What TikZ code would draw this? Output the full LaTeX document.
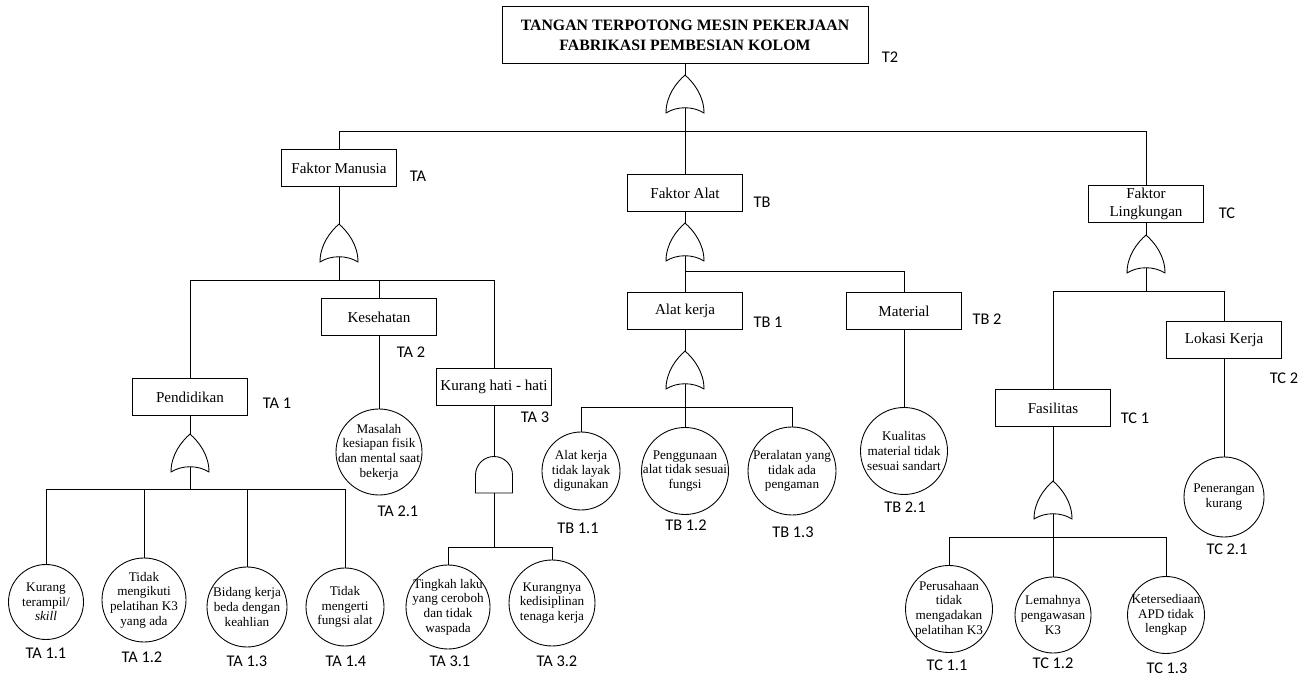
\documentclass[tikz,border=0pt]{standalone}
\usepackage{fontspec}
\setmainfont{Liberation Serif}
\newfontfamily\tagfont{Carlito}

\begin{document}
\begin{tikzpicture}
      [x=0.2mm,y=-0.2mm,line width=0.5pt,
       box/.style={draw, rectangle, minimum width=2.3cm, minimum height=0.74cm, inner sep=1pt, align=center, font=\fontsize{8.6}{10.4}\selectfont},
       ev/.style={draw, circle, inner sep=-5pt, minimum size=#1, align=center, font=\fontsize{7.5}{8.3}\selectfont},
       ev/.default=1.7cm,
       tag/.style={inner sep=0pt, font=\tagfont\fontsize{9.3}{11}\selectfont},
       orgate/.pic={
         \draw (-19,19) .. controls (-19,2) and (-9,-11) .. (0,-19) .. controls (9,-11) and (19,2) .. (19,19) .. controls (8,12) and (-8,12) .. cycle;
         \coordinate (-out) at (0,-19);
         \coordinate (-in) at (0,14);
       },
       andgate/.pic={
         \draw (-18.5,18) -- (-18.5,0) arc (180:360:18.5) -- (18.5,18) -- cycle;
         \coordinate (-out) at (0,-18.5);
         \coordinate (-in) at (0,18);
       }]
    \useasboundingbox (0,0) rectangle (1311,677);

    % top event
    \node[box, minimum width=7.32cm, minimum height=1.14cm, font=\bfseries\fontsize{9}{11.4}\selectfont] (t2) at (685,35) {TANGAN TERPOTONG MESIN PEKERJAAN\\FABRIKASI PEMBESIAN KOLOM};
    \pic (gt) at (685,94) {orgate};
    \coordinate (j0) at (685,131);

    % faktor manusia
    \node[box] (ta) at (339,168) {Faktor Manusia};
    \pic (gta) at (339,243) {orgate};
    \coordinate (jta) at (339,280);
    \node[box] (ta1) at (190,397) {Pendidikan};
    \pic (gta1) at (190,453) {orgate};
    \coordinate (jta1) at (190,489);
    \node[ev=1.5cm] (ta11) at (46,602) {Kurang\\terampil/\\\textit{skill}};
    \node[ev=1.68cm] (ta12) at (144,600) {Tidak\\mengikuti\\pelatihan K3\\yang ada};
    \node[ev=1.6cm] (ta13) at (247,607) {Bidang kerja\\beda dengan\\keahlian};
    \node[ev=1.56cm] (ta14) at (345,607) {Tidak\\mengerti\\fungsi alat};
    \node[box] (ta2) at (379,317) {Kesehatan};
    \node[ev=1.72cm] (ta21) at (379,452) {Masalah\\kesiapan fisik\\dan mental saat\\bekerja};
    \node[box] (ta3) at (494,387) {Kurang hati - hati};
    \pic (gta3) at (494,475) {andgate};
    \coordinate (jta3) at (494,547);
    \node[ev=1.68cm] (ta31) at (448,607) {Tingkah laku\\yang ceroboh\\dan tidak\\waspada};
    \node[ev=1.72cm] (ta32) at (552,603) {Kurangnya\\kedisiplinan\\tenaga kerja};

    % faktor alat
    \node[box] (tb) at (685,193) {Faktor Alat};
    \pic (gtb) at (685,242) {orgate};
    \coordinate (jtb) at (685,271);
    \node[box] (tb1) at (685,311) {Alat kerja};
    \pic (gtb1) at (685,370) {orgate};
    \coordinate (jtb1) at (685,407);
    \node[ev=1.56cm] (tb11) at (581,471) {Alat kerja\\tidak layak\\digunakan};
    \node[ev=1.74cm] (tb12) at (685,471) {Penggunaan\\alat tidak sesuai\\fungsi};
    \node[ev=1.76cm] (tb13) at (792,471) {Peralatan yang\\tidak ada\\pengaman};
    \node[box] (tb2) at (904,311) {Material};
    \node[ev=1.74cm] (tb21) at (904,451) {Kualitas\\material tidak\\sesuai sandart};

    % faktor lingkungan
    \node[box] (tc) at (1146,204) {Faktor\\Lingkungan};
    \pic (gtc) at (1146,254) {orgate};
    \coordinate (jtc) at (1146,291);
    \node[box] (tc1) at (1053,408) {Fasilitas};
    \pic (gtc1) at (1053,500) {orgate};
    \coordinate (jtc1) at (1053,537);
    \node[ev=1.74cm] (tc11) at (949,609) {Perusahaan\\tidak\\mengadakan\\pelatihan K3};
    \node[ev=1.52cm] (tc12) at (1053,615) {Lemahnya\\pengawasan\\K3};
    \node[ev=1.54cm] (tc13) at (1166,615) {Ketersediaan\\APD tidak\\lengkap};
    \node[box] (tc2) at (1224,340) {Lokasi Kerja};
    \node[ev=1.6cm] (tc21) at (1224,497) {Penerangan\\kurang};

    % codes
    \node[tag] (lt2) at (890,57) {T2};
    \node[tag] (lta) at (418,176) {TA};
    \node[tag] (lta1) at (277,403) {TA 1};
    \node[tag] (lta2) at (411,352) {TA 2};
    \node[tag] (lta3) at (535,417) {TA 3};
    \node[tag] (lta11) at (46,653) {TA 1.1};
    \node[tag] (lta12) at (142,657) {TA 1.2};
    \node[tag] (lta13) at (247,661) {TA 1.3};
    \node[tag] (lta14) at (346,661) {TA 1.4};
    \node[tag] (lta21) at (398,511) {TA 2.1};
    \node[tag] (lta31) at (450,661) {TA 3.1};
    \node[tag] (lta32) at (557,661) {TA 3.2};
    \node[tag] (ltb) at (762,202) {TB};
    \node[tag] (ltb1) at (768,322) {TB 1};
    \node[tag] (ltb2) at (987,319) {TB 2};
    \node[tag] (ltb11) at (578,528) {TB 1.1};
    \node[tag] (ltb12) at (686,525) {TB 1.2};
    \node[tag] (ltb13) at (793,532) {TB 1.3};
    \node[tag] (ltb21) at (905,507) {TB 2.1};
    \node[tag] (ltc) at (1227,213) {TC};
    \node[tag] (ltc1) at (1135,418) {TC 1};
    \node[tag] (ltc2) at (1284,378) {TC 2};
    \node[tag] (ltc11) at (947,665) {TC 1.1};
    \node[tag] (ltc12) at (1053,663) {TC 1.2};
    \node[tag] (ltc13) at (1167,668) {TC 1.3};
    \node[tag] (ltc21) at (1227,549) {TC 2.1};

    \foreach \from/\to in {t2/gt, ta/gta, ta1/gta1, ta3/gta3, tb/gtb, tb1/gtb1, tc/gtc, tc1/gtc1}
      \draw (\from) -- (\to-out);
    \foreach \from/\to in {gt/j0, gta/jta, gta1/jta1, gta3/jta3, gtb/jtb, gtb1/jtb1, gtc/jtc, gtc1/jtc1}
      \draw (\from-in) -- (\to);
    \foreach \from/\to in {j0/ta, j0/tb, j0/tc, jta/ta1, jta/ta2, jta/ta3, jta1/ta11, jta1/ta12, jta1/ta13, jta1/ta14, jta3/ta31, jta3/ta32, jtb/tb1, jtb/tb2, jtb1/tb11, jtb1/tb12, jtb1/tb13, jtc/tc1, jtc/tc2, jtc1/tc11, jtc1/tc12, jtc1/tc13}
      \draw (\from) -| (\to);
    \foreach \from/\to in {ta2/ta21, tb2/tb21, tc2/tc21}
      \draw (\from) -- (\to);
  \end{tikzpicture}
\end{document}
